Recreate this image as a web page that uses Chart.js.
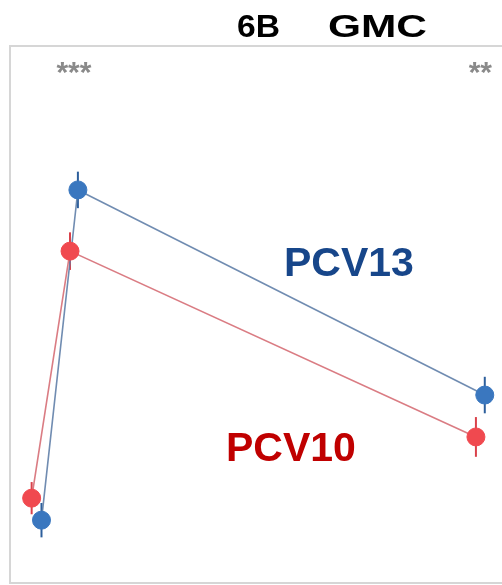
<!DOCTYPE html>
<html>
<head>
<meta charset="utf-8">
<script src="https://cdn.jsdelivr.net/npm/chart.js@4.4.1/dist/chart.umd.min.js"></script>
<style>
  html, body { margin: 0; padding: 0; background: #ffffff; }
  #wrap { width: 502px; height: 585px; position: relative; }
</style>
</head>
<body>
<div id="wrap"><canvas id="c" width="502" height="585"></canvas></div>
<script>
// Sampling positions on the time axis (slightly dodged per group)
const pcv10X = [4.4, 12.2, 94.7];
const pcv13X = [6.4, 13.8, 96.5];

// GMC values (relative scale) and error half-widths
const pcv10GMC = [15.8, 61.8, 27.2];
const pcv13GMC = [11.7, 73.2, 35.0];
const pcv10Err = [3.0, 3.5, 3.7];
const pcv13Err = [3.2, 3.4, 3.4];

// Significance marks above the time points
const sigX = [13.0, 95.6];
const sigText = ['***', '**'];

const seriesNames = ['PCV10', 'PCV13'];
const titleParts = ['6B', 'GMC'];

const toPoints = (xs, ys) => xs.map((x, i) => ({ x: x, y: ys[i] }));

const errorBars = {
  id: 'errorBars',
  beforeDatasetsDraw(chart) {
    const { ctx, scales: { x, y } } = chart;
    const sets = [
      { xs: pcv10X, ys: pcv10GMC, es: pcv10Err, color: '#d9414a' },
      { xs: pcv13X, ys: pcv13GMC, es: pcv13Err, color: '#2d5f9c' }
    ];
    ctx.save();
    ctx.lineWidth = 2;
    sets.forEach(s => {
      ctx.strokeStyle = s.color;
      s.xs.forEach((xv, i) => {
        const px = x.getPixelForValue(xv);
        ctx.beginPath();
        ctx.moveTo(px, y.getPixelForValue(s.ys[i] + s.es[i]));
        ctx.lineTo(px, y.getPixelForValue(s.ys[i] - s.es[i]));
        ctx.stroke();
      });
    });
    ctx.restore();
  }
};

const frame = {
  id: 'frame',
  beforeDraw(chart) {
    const { ctx, chartArea: a } = chart;
    ctx.save();
    ctx.strokeStyle = '#d6d6d6';
    ctx.lineWidth = 2;
    ctx.beginPath();
    ctx.moveTo(a.right + 4, a.top);
    ctx.lineTo(a.left, a.top);
    ctx.lineTo(a.left, a.bottom);
    ctx.lineTo(a.right + 4, a.bottom);
    ctx.stroke();
    ctx.restore();
  }
};

const annotations = {
  id: 'annotations',
  afterDraw(chart) {
    const { ctx, scales: { x } } = chart;
    ctx.save();
    // title
    ctx.fillStyle = '#000000';
    ctx.textBaseline = 'alphabetic';
    ctx.textAlign = 'left';
    ctx.font = 'bold 32px "Liberation Sans", Arial, sans-serif';
    ctx.save();
    ctx.translate(237, 37);
    ctx.scale(43 / ctx.measureText(titleParts[0]).width, 1);
    ctx.fillText(titleParts[0], 0, 0);
    ctx.restore();
    ctx.save();
    ctx.translate(328, 37);
    ctx.scale(99 / ctx.measureText(titleParts[1]).width, 1);
    ctx.fillText(titleParts[1], 0, 0);
    ctx.restore();

    // significance asterisks
    ctx.fillStyle = '#8a8a8a';
    ctx.textAlign = 'center';
    ctx.textBaseline = 'top';
    ctx.font = 'bold 30px "Liberation Sans", Arial, sans-serif';
    sigX.forEach((v, i) => ctx.fillText(sigText[i], x.getPixelForValue(v), 59));

    // series labels
    ctx.textAlign = 'left';
    ctx.textBaseline = 'alphabetic';
    ctx.font = 'bold 41px "Liberation Sans", Arial, sans-serif';
    ctx.fillStyle = '#17468a';
    ctx.fillText(seriesNames[1], 284, 276);
    ctx.fillStyle = '#c00000';
    ctx.fillText(seriesNames[0], 226, 461);
    ctx.restore();
  }
};

new Chart(document.getElementById('c'), {
  type: 'scatter',
  data: {
    datasets: [
      {
        label: seriesNames[0],
        data: toPoints(pcv10X, pcv10GMC),
        showLine: true,
        borderColor: 'rgba(214, 110, 118, 0.9)',
        borderWidth: 1.6,
        pointRadius: 9,
        pointBackgroundColor: '#f0494f',
        pointBorderColor: '#f0494f',
        pointBorderWidth: 1
      },
      {
        label: seriesNames[1],
        data: toPoints(pcv13X, pcv13GMC),
        showLine: true,
        borderColor: 'rgba(96, 128, 168, 0.9)',
        borderWidth: 1.6,
        pointRadius: 9,
        pointBackgroundColor: '#3a77bf',
        pointBorderColor: '#3a77bf',
        pointBorderWidth: 1
      }
    ]
  },
  options: {
    responsive: false,
    animation: false,
    layout: { autoPadding: false, padding: { left: 10, top: 46, right: 0, bottom: 2 } },
    plugins: { legend: { display: false }, tooltip: { enabled: false }, title: { display: false } },
    scales: {
      x: { type: 'linear', min: 0, max: 100, display: false },
      y: { type: 'linear', min: 0, max: 100, display: false }
    }
  },
  plugins: [frame, errorBars, annotations]
});
</script>
</body>
</html>
